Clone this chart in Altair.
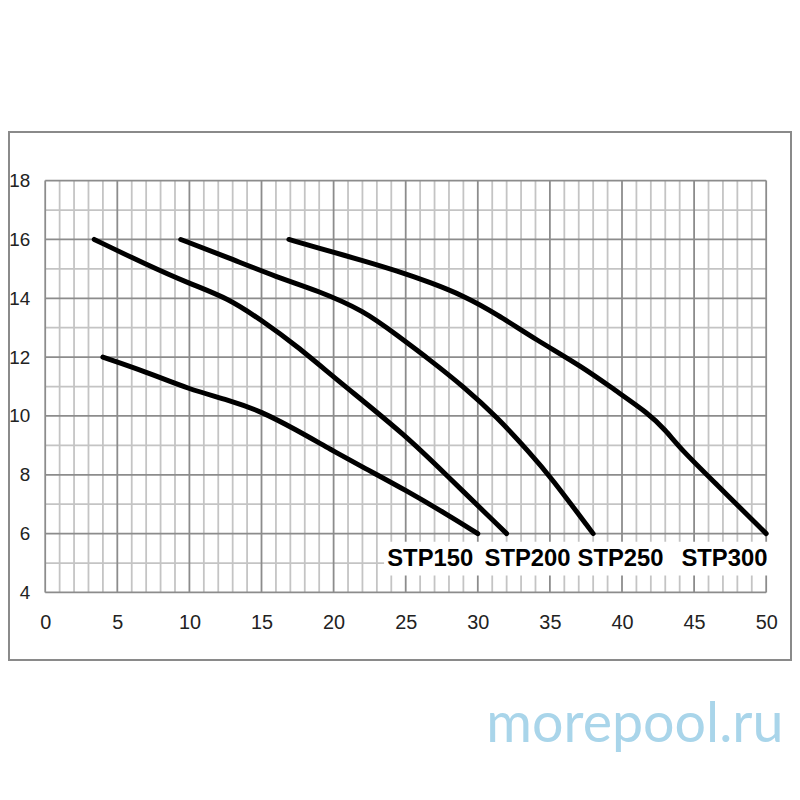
import altair as alt
import pandas as pd

# ---- data ----
stp150_x = [4.0, 7.0, 10.0, 12.7, 15.0, 17.4, 19.8, 22.1, 25.1, 27.8, 30.0]
stp150_y = [12.0, 11.5, 10.9, 10.55, 10.15, 9.53, 8.86, 8.24, 7.45, 6.67, 6.0]
stp200_x = [3.4, 7.0, 10.0, 12.7, 15.0, 17.4, 20.3, 25.1, 27.8, 32.0]
stp200_y = [16.0, 15.15, 14.5, 14.0, 13.25, 12.4, 11.2, 9.3, 8.0, 6.0]
stp250_x = [9.4, 12.7, 16.1, 18.9, 22.1, 24.4, 26.7, 29.0, 31.3, 33.6, 35.0, 38.0]
stp250_y = [16.0, 15.38, 14.71, 14.26, 13.58, 12.74, 11.9, 11.0, 9.98, 8.75, 7.96, 6.0]
stp300_x = [16.9, 18.9, 22.1, 24.4, 26.7, 29.0, 31.3, 34.0, 37.25, 39.5, 41.8, 43.0, 44.1, 46.4, 50.0]
stp300_y = [16.0, 15.72, 15.27, 14.93, 14.54, 14.09, 13.47, 12.6, 11.67, 10.88, 10.1, 9.53, 8.86, 7.75, 6.0]

series_names = ["STP150", "STP200", "STP250", "STP300"]
label_x = [26.7, 33.45, 39.9, 47.1]
label_y = [5.12, 5.12, 5.12, 5.12]

x_ticks = [0, 5, 10, 15, 20, 25, 30, 35, 40, 45, 50]
y_ticks = [4, 6, 8, 10, 12, 14, 16, 18]
grid_x = list(range(0, 51))
grid_y = list(range(4, 19))
watermark = "morepool.ru"

# ---- tables ----
rows = []
for name, xs_, ys_ in zip(series_names, [stp150_x, stp200_x, stp250_x, stp300_x],
                          [stp150_y, stp200_y, stp250_y, stp300_y]):
    for i, (a, b) in enumerate(zip(xs_, ys_)):
        rows.append({"series": name, "x": a, "y": b, "i": i})
curves = pd.DataFrame(rows)
labels = pd.DataFrame({"name": series_names, "x": label_x, "y": label_y})
gx = pd.DataFrame({"x": grid_x, "major": [v % 5 == 0 for v in grid_x]})
gy = pd.DataFrame({"y": grid_y, "major": [v % 2 == 0 for v in grid_y]})
one = pd.DataFrame({"a": [0]})
band = pd.DataFrame({"x": [23.5], "x2": [50.3], "y": [4.58], "y2": [5.72]})

W, H = 726.5, 415
xs = alt.Scale(domain=[0, 50], nice=False, zero=False)
ys = alt.Scale(domain=[4, 18], nice=False, zero=False)
ax_x = alt.Axis(values=x_ticks, title=None, grid=False, ticks=False, domain=False,
                labelFlush=False, labelOverlap=False,
                labelFont="Liberation Sans", labelFontSize=20, labelColor="#222", labelPadding=20)
ax_y = alt.Axis(values=y_ticks, title=None, grid=False, ticks=False, domain=False,
                labelFlush=False, labelOverlap=False,
                labelFont="Liberation Sans", labelFontSize=19, labelColor="#222", labelPadding=15.5)

frame = alt.Chart(one).mark_rect(fill=None, stroke="#8a8a8a", strokeWidth=2, clip=False).encode(
    x=alt.value(-36.5), x2=alt.value(751.5), y=alt.value(-49), y2=alt.value(483)
)

vminor = alt.Chart(gx).transform_filter("!datum.major").mark_rule(color="#c4c4c4", strokeWidth=1.8).encode(
    x=alt.X("x:Q", scale=xs, axis=ax_x)
)
hminor = alt.Chart(gy).transform_filter("!datum.major").mark_rule(color="#c4c4c4", strokeWidth=1.8).encode(
    y=alt.Y("y:Q", scale=ys, axis=ax_y)
)
vmajor = alt.Chart(gx).transform_filter("datum.major").mark_rule(color="#8c8c8c", strokeWidth=1.8).encode(
    x=alt.X("x:Q", scale=xs, axis=ax_x)
)
hmajor = alt.Chart(gy).transform_filter("datum.major").mark_rule(color="#8c8c8c", strokeWidth=1.8).encode(
    y=alt.Y("y:Q", scale=ys, axis=ax_y)
)

whiteband = alt.Chart(band).mark_rect(fill="white", clip=False).encode(
    x=alt.X("x:Q", scale=xs, axis=ax_x), x2="x2:Q",
    y=alt.Y("y:Q", scale=ys, axis=ax_y), y2="y2:Q",
)

lines = alt.Chart(curves).mark_line(
    color="black", strokeWidth=5, strokeCap="round", strokeJoin="round", interpolate="basis"
).encode(
    x=alt.X("x:Q", scale=xs, axis=ax_x),
    y=alt.Y("y:Q", scale=ys, axis=ax_y),
    detail="series:N",
    order="i:Q",
)

text = alt.Chart(labels).mark_text(
    font="Liberation Sans", fontSize=24, fontWeight="bold", color="black",
    align="center", baseline="middle"
).encode(
    x=alt.X("x:Q", scale=xs, axis=ax_x),
    y=alt.Y("y:Q", scale=ys, axis=ax_y),
    text="name:N",
)

wm = alt.Chart(one).transform_calculate(t=f"'{watermark}'").mark_text(
    font="Lato", fontSize=56, fontWeight="normal", color="#a9d5ea", align="right",
    baseline="alphabetic"
).encode(x=alt.value(744), y=alt.value(566), text="t:N")

chart = alt.layer(frame, vminor, hminor, vmajor, hmajor, whiteband, lines, text, wm).properties(
    width=W, height=H,
    autosize=alt.AutoSizeParams(type="none"),
    padding={"left": 37.5, "top": 171, "right": 26, "bottom": 180},
).configure_view(stroke=None)

chart.save("out.html", embed_options={"renderer": "svg", "actions": False})
